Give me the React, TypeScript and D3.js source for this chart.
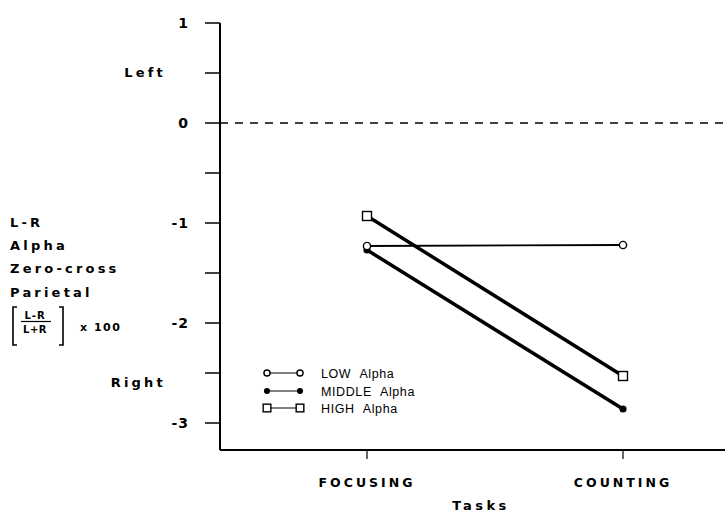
import React, { useEffect, useRef } from 'react';
import * as d3 from 'd3';

const tasks = ['FOCUSING', 'COUNTING'];
const seriesNames = ['LOW\u00a0\u00a0Alpha', 'MIDDLE\u00a0\u00a0Alpha', 'HIGH\u00a0\u00a0Alpha'];
const lowAlpha = [-1.23, -1.22];
const middleAlpha = [-1.27, -2.86];
const highAlpha = [-0.93, -2.53];
const yTickLabels = [1, 0, -1, -2, -3];
const yMinorTicks = [0.5, -0.5, -1.5, -2.5];

const W = 725;
const H = 513;
const boldFont = '"DejaVu Sans", sans-serif';

const App = () => {
    const svgRef = useRef<SVGSVGElement | null>(null);

    useEffect(() => {
        if (!svgRef.current) return;
        const svg = d3.select(svgRef.current);
        svg.selectAll('*').remove();

        const left = 220;
        const bottom = 450;

        const y = d3.scaleLinear().domain([1, -3]).range([23, 423]);
        const x = d3.scalePoint().domain(tasks).range([367, 623]);

        // y axis
        svg.append('line')
            .attr('x1', left).attr('x2', left)
            .attr('y1', y(1)).attr('y2', bottom)
            .attr('stroke', '#000').attr('stroke-width', 2);

        [...yTickLabels, ...yMinorTicks].forEach(v => {
            svg.append('line')
                .attr('x1', left - 15).attr('x2', left)
                .attr('y1', y(v)).attr('y2', y(v))
                .attr('stroke', '#000').attr('stroke-width', 1.5);
        });

        yTickLabels.forEach(v => {
            svg.append('text')
                .attr('x', 189).attr('y', y(v) + 5)
                .attr('text-anchor', 'end')
                .style('font-family', boldFont)
                .style('font-weight', 'bold')
                .style('font-size', '14px')
                .style('letter-spacing', '1px')
                .text(v < 0 ? '-' + Math.abs(v) : String(v));
        });

        // x axis
        svg.append('line')
            .attr('x1', left).attr('x2', W)
            .attr('y1', bottom).attr('y2', bottom)
            .attr('stroke', '#000').attr('stroke-width', 2);

        tasks.forEach(t => {
            const cx = x(t) as number;
            svg.append('line')
                .attr('x1', cx).attr('x2', cx)
                .attr('y1', bottom).attr('y2', bottom + 9)
                .attr('stroke', '#000').attr('stroke-width', 1.2);
            svg.append('text')
                .attr('x', cx).attr('y', 487)
                .attr('text-anchor', 'middle')
                .style('font-family', boldFont)
                .style('font-weight', 'bold')
                .style('font-size', '12.5px')
                .style('letter-spacing', '3px')
                .text(t);
        });

        svg.append('text')
            .attr('x', 481).attr('y', 510)
            .attr('text-anchor', 'middle')
            .style('font-family', boldFont)
            .style('font-weight', 'bold')
            .style('font-size', '13px')
            .style('letter-spacing', '3.5px')
            .text('Tasks');

        // zero reference line
        svg.append('line')
            .attr('x1', left).attr('x2', W)
            .attr('y1', y(0)).attr('y2', y(0))
            .attr('stroke', '#000').attr('stroke-width', 1.5)
            .attr('stroke-dasharray', '8,7');

        // left labels
        const label = (txt: string, lx: number, ly: number, anchor = 'start') =>
            svg.append('text')
                .attr('x', lx).attr('y', ly)
                .attr('text-anchor', anchor)
                .style('font-family', boldFont)
                .style('font-weight', 'bold')
                .style('font-size', '13px')
                .style('letter-spacing', '3.2px')
                .text(txt);

        label('Left', 166, 77, 'end');
        label('Right', 166, 387, 'end');
        label('L-R', 10, 227);
        label('Alpha', 10, 250);
        label('Zero-cross', 10, 273);
        label('Parietal', 10, 297);

        // fraction [ (L-R)/(L+R) ] x 100
        const br = svg.append('g').attr('stroke', '#000').attr('stroke-width', 1.6).attr('fill', 'none');
        br.append('path').attr('d', 'M17,307 L13,307 L13,345 L17,345');
        br.append('path').attr('d', 'M59,307 L63,307 L63,345 L59,345');
        svg.append('line')
            .attr('x1', 21).attr('x2', 51).attr('y1', 321.5).attr('y2', 321.5)
            .attr('stroke', '#000').attr('stroke-width', 1.2);
        svg.append('text').attr('x', 35).attr('y', 319).attr('text-anchor', 'middle')
            .style('font-family', boldFont).style('font-weight', 'bold').style('font-size', '10px')
            .style('letter-spacing', '1px').text('L-R');
        svg.append('text').attr('x', 35).attr('y', 333).attr('text-anchor', 'middle')
            .style('font-family', boldFont).style('font-weight', 'bold').style('font-size', '10px')
            .style('letter-spacing', '0.5px').text('L+R');
        svg.append('text').attr('x', 80).attr('y', 331)
            .style('font-family', boldFont).style('font-weight', 'bold').style('font-size', '11px')
            .style('letter-spacing', '1.5px').text('x 100');

        // series
        const series = [
            { name: seriesNames[0], values: lowAlpha, width: 1.8, marker: 'openCircle' },
            { name: seriesNames[1], values: middleAlpha, width: 3.5, marker: 'dot' },
            { name: seriesNames[2], values: highAlpha, width: 3.5, marker: 'square' }
        ];

        const line = d3.line<number>()
            .x((_, i) => x(tasks[i]) as number)
            .y(d => y(d));

        const drawMarker = (g: any, kind: string, cx: number, cy: number, size = 1) => {
            if (kind === 'openCircle') {
                g.append('circle').attr('cx', cx).attr('cy', cy).attr('r', 3.6 * size)
                    .attr('fill', '#fff').attr('stroke', '#000').attr('stroke-width', 1.4);
            } else if (kind === 'dot') {
                g.append('circle').attr('cx', cx).attr('cy', cy).attr('r', 3.6 * size)
                    .attr('fill', '#000');
            } else {
                const s = 9 * size;
                g.append('rect').attr('x', cx - s / 2).attr('y', cy - s / 2)
                    .attr('width', s).attr('height', s)
                    .attr('fill', '#fff').attr('stroke', '#000').attr('stroke-width', 1.4);
            }
        };

        [series[1], series[2], series[0]].forEach(s => {
            svg.append('path')
                .datum(s.values)
                .attr('fill', 'none')
                .attr('stroke', '#000')
                .attr('stroke-width', s.width)
                .attr('d', line);
        });
        [series[1], series[0], series[2]].forEach(s => {
            s.values.forEach((v, i) => drawMarker(svg, s.marker, x(tasks[i]) as number, y(v)));
        });

        // legend
        const legY = [373, 391, 408];
        series.forEach((s, i) => {
            const ly = legY[i];
            svg.append('line').attr('x1', 267).attr('x2', 300).attr('y1', ly).attr('y2', ly)
                .attr('stroke', '#000').attr('stroke-width', 1.2);
            drawMarker(svg, s.marker, 267, ly, 0.85);
            drawMarker(svg, s.marker, 300, ly, 0.85);
            svg.append('text')
                .attr('x', 321).attr('y', ly + 4.5)
                .style('font-family', '"Liberation Sans", Arial, sans-serif')
                .style('font-size', '12.5px')
                .style('letter-spacing', '0.6px')
                .text(s.name);
        });
    }, []);

    return (
        <svg ref={svgRef} width={W} height={H}
            style={{ position: 'absolute', left: 0, top: 0, background: '#fff' }} />
    );
};

export default App;
